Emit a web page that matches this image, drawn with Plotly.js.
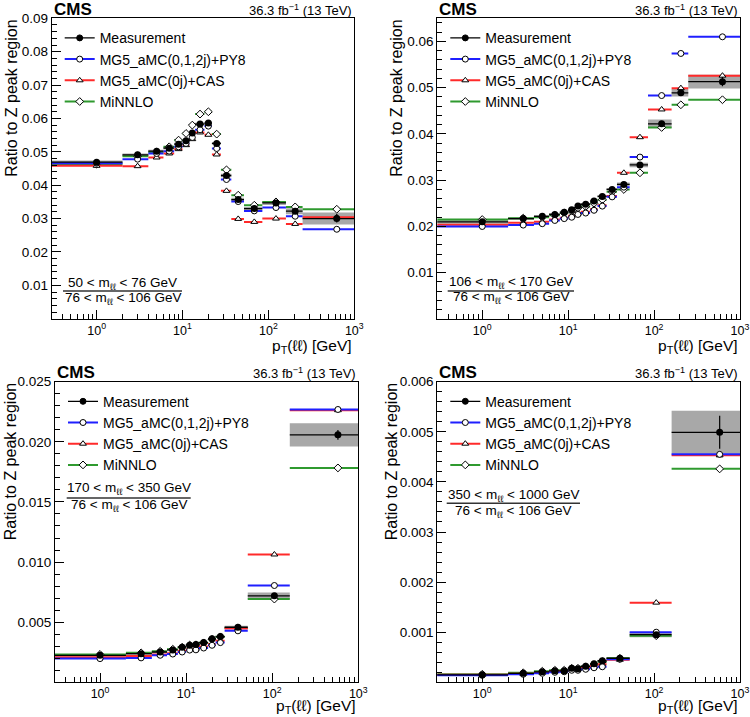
<!DOCTYPE html>
<html><head><meta charset="utf-8">
<script src="https://cdn.plot.ly/plotly-3.0.1.min.js"></script>
<style>html,body{margin:0;padding:0;background:#fff}#chart{width:750px;height:717px}</style>
</head><body><div id="chart"></div>
<script>
// ---------------- data ----------------
// pT(ll) bin edges [GeV]
const edgesA = [0,2,4,6,8,10,12,14,18,22,28,37,52,85,160,250,1000];
const edgesB = [0,2,4,6,8,10,12,14,18,22,28,37,52,85,160,250,1000];
const edgesC = [0,2,4,6,8,10,12,14,18,22,28,52,160,1000];
const edgesD = [0,2,4,6,8,10,12,14,18,22,28,52,160,1000];

// 50 < mll < 76 GeV
const measA = [0.0469,0.0491,0.0502,0.0511,0.0523,0.0533,0.0556,0.0583,0.0586,0.0525,0.0429,0.0357,0.0330,0.0347,0.0322,0.0300];
const statA = [0.0001,0.0001,0.0001,0.0001,0.0001,0.0001,0.0001,0.0001,0.0001,0.0002,0.0002,0.0002,0.0003,0.0004,0.0007,0.0012];
const bandA = [0.0005,0.0004,0.0004,0.0004,0.0004,0.0004,0.0004,0.0004,0.0004,0.0004,0.0005,0.0005,0.0005,0.0006,0.0009,0.0018];
const py8A  = [0.0466,0.0478,0.0495,0.0502,0.0515,0.0525,0.0543,0.0566,0.0577,0.0510,0.0417,0.0351,0.0323,0.0333,0.0307,0.0268];
const casA  = [0.0458,0.0457,0.0483,0.0495,0.0508,0.0520,0.0538,0.0558,0.0551,0.0492,0.0383,0.0299,0.0290,0.0300,0.0284,0.0304];
const mnlA  = [0.0463,0.0487,0.0499,0.0515,0.0535,0.0555,0.0580,0.0613,0.0620,0.0553,0.0446,0.0370,0.0340,0.0350,0.0335,0.0328];

// 106 < mll < 170 GeV
const measB = [0.0210,0.0217,0.0222,0.0226,0.0231,0.0236,0.0244,0.0248,0.0255,0.0265,0.0280,0.0291,0.0333,0.0422,0.0489,0.0513];
const statB = [0.0001,0.0001,0.0001,0.0001,0.0001,0.0001,0.0001,0.0001,0.0001,0.0001,0.0002,0.0002,0.0003,0.0005,0.0006,0.0010];
const bandB = [0.0004,0.0003,0.0003,0.0003,0.0003,0.0003,0.0003,0.0003,0.0003,0.0003,0.0003,0.0004,0.0005,0.0009,0.0008,0.0015];
const py8B  = [0.0200,0.0203,0.0206,0.0213,0.0217,0.0220,0.0226,0.0229,0.0235,0.0244,0.0264,0.0285,0.0350,0.0483,0.0574,0.0610];
const casB  = [0.0204,0.0208,0.0210,0.0215,0.0219,0.0223,0.0228,0.0232,0.0238,0.0246,0.0266,0.0316,0.0393,0.0453,0.0499,0.0526];
const mnlB  = [0.0215,0.0218,0.0220,0.0224,0.0229,0.0233,0.0240,0.0243,0.0250,0.0258,0.0275,0.0280,0.0316,0.0414,0.0463,0.0474];

// 170 < mll < 350 GeV
const measC = [0.00224,0.00238,0.00252,0.00269,0.00292,0.00309,0.00314,0.00330,0.00362,0.00380,0.00458,0.00719,0.02058];
const statC = [0.00003,0.00003,0.00003,0.00003,0.00003,0.00003,0.00003,0.00003,0.00004,0.00004,0.00006,0.00010,0.00040];
const bandC = [0.00010,0.00010,0.00010,0.00010,0.00010,0.00010,0.00010,0.00010,0.00010,0.00010,0.00012,0.00028,0.00097];
const py8C  = [0.00197,0.00203,0.00225,0.00235,0.00252,0.00268,0.00270,0.00285,0.00308,0.00330,0.00428,0.00805,0.02269];
const casC  = [0.00208,0.00218,0.00232,0.00242,0.00262,0.00275,0.00280,0.00298,0.00318,0.00345,0.00448,0.01063,0.02263];
const mnlC  = [0.00232,0.00245,0.00258,0.00275,0.00292,0.00310,0.00312,0.00328,0.00358,0.00378,0.00452,0.00692,0.01783];

// 350 < mll < 1000 GeV
const measD = [0.00015,0.00018,0.00021,0.00023,0.00023,0.00028,0.00027,0.00032,0.00037,0.00043,0.00048,0.00095,0.00499];
const statD = [0.000005,0.000005,0.000006,0.000006,0.000007,0.000008,0.000008,0.000009,0.00001,0.000012,0.000015,0.00004,0.00033];
const bandD = [0.000012,0.000012,0.000012,0.000012,0.000012,0.000014,0.000014,0.000015,0.000016,0.000018,0.00002,0.00005,0.00043];
const py8D  = [0.00014,0.00016,0.00018,0.00020,0.00021,0.00024,0.00024,0.00026,0.00029,0.00031,0.00046,0.00100,0.00455];
const casD  = [0.00015,0.00017,0.00019,0.00022,0.00022,0.00025,0.00026,0.00028,0.00032,0.00036,0.00045,0.00159,0.00453];
const mnlD  = [0.00016,0.00019,0.00022,0.00024,0.00024,0.00028,0.00028,0.00031,0.00035,0.00041,0.00048,0.00093,0.00426];

const legendNames = ['Measurement','MG5_aMC(0,1,2j)+PY8','MG5_aMC(0j)+CAS','MiNNLO'];
const numLabels = ['50 < m<sub>ℓℓ</sub> < 76 GeV','106 < m<sub>ℓℓ</sub> < 170 GeV','170 < m<sub>ℓℓ</sub> < 350 GeV','350 < m<sub>ℓℓ</sub> < 1000 GeV'];
const denLabel = '76 < m<sub>ℓℓ</sub> < 106 GeV';
const yTickVals = [
  [0.01,0.02,0.03,0.04,0.05,0.06,0.07,0.08,0.09],
  [0.01,0.02,0.03,0.04,0.05,0.06],
  [0.005,0.010,0.015,0.020,0.025],
  [0.001,0.002,0.003,0.004,0.005,0.006]
];
const xTickVals = [1,10,100,1000];
const xTickText = ['10<sup>0</sup>','10<sup>1</sup>','10<sup>2</sup>','10<sup>3</sup>'];

// ---------------- styling ----------------
const FONT = 'Liberation Sans, Arial, Helvetica, sans-serif';
const COL = {meas:'#000000', py8:'#1f1fff', cas:'#ff2a2a', mnl:'#2f9a2f', band:'#a8a8a8'};
const W = 750, H = 717;
// plot-area pixel boxes [x0,x1,y0(top),y1(bottom)]
const boxes = [
  [51.7,354.3,18.3,318.7],
  [437.3,740,18.3,319],
  [55,358.3,381.7,682.3],
  [437.3,740,381.7,682.3]
];
const yRanges = [[0,0.09],[0,0.065],[0,0.025],[0,0.006]];
const yMinor = [0.002,0.002,0.001,0.0002];
const yFmt = ['.2f','.2f','.3f','.3f'];
const XMIN = 0.3;

const panels = [
  {edges:edgesA, meas:measA, stat:statA, band:bandA, py8:py8A, cas:casA, mnl:mnlA},
  {edges:edgesB, meas:measB, stat:statB, band:bandB, py8:py8B, cas:casB, mnl:mnlB},
  {edges:edgesC, meas:measC, stat:statC, band:bandC, py8:py8C, cas:casC, mnl:mnlC},
  {edges:edgesD, meas:measD, stat:statD, band:bandD, py8:py8D, cas:casD, mnl:mnlD}
];

const px = x => x / W;
const py = y => 1 - y / H;

const minorX = [];
[0.1,1,10,100].forEach(d => { for (let m = 2; m <= 9; m++) { const v = m*d; if (v > XMIN) minorX.push(v); } });

const traces = [];
const layout = {
  width: W, height: H, margin:{l:0,r:0,t:0,b:0},
  paper_bgcolor:'#fff', plot_bgcolor:'#fff',
  font:{family:FONT, color:'#000'},
  showlegend:true, annotations:[], shapes:[]
};

panels.forEach((p, i) => {
  const k = i + 1;
  const xa = k === 1 ? 'x' : 'x' + k;
  const ya = k === 1 ? 'y' : 'y' + k;
  const lg = k === 1 ? 'legend' : 'legend' + k;
  const n = p.meas.length;
  const lo = [], hi = [], c = [];
  for (let j = 0; j < n; j++) {
    const l = Math.max(p.edges[j], XMIN * 0.9);
    const h = p.edges[j+1];
    lo.push(l); hi.push(h); c.push((p.edges[j] + p.edges[j+1]) / 2);
  }
  const ep = hi.map((h,j) => h - c[j]);
  const em = lo.map((l,j) => c[j] - l);

  // grey uncertainty band
  const bx = [], by = [];
  for (let j = 0; j < n; j++) {
    const a = p.meas[j] - p.band[j], b = p.meas[j] + p.band[j];
    bx.push(lo[j], hi[j], hi[j], lo[j], lo[j], null);
    by.push(a, a, b, b, a, null);
  }
  traces.push({type:'scatter', mode:'lines', x:bx, y:by, xaxis:xa, yaxis:ya, fill:'toself',
    fillcolor:COL.band, line:{width:0, color:COL.band}, hoverinfo:'skip', showlegend:false});

  const model = (vals, col, sym) => ({
    type:'scatter', mode:'markers', x:c, y:vals, xaxis:xa, yaxis:ya, showlegend:false,
    marker:{symbol:sym, size:6, color:'#fff', line:{color:'#000', width:1}},
    error_x:{type:'data', symmetric:false, array:ep, arrayminus:em, color:col, thickness:2, width:0}
  });
  traces.push(model(p.mnl, COL.mnl, 'diamond'));
  traces.push(model(p.cas, COL.cas, 'triangle-up'));
  traces.push(model(p.py8, COL.py8, 'circle'));
  traces.push({type:'scatter', mode:'markers', x:c, y:p.meas, xaxis:xa, yaxis:ya, showlegend:false,
    marker:{symbol:'circle', size:7, color:'#000'},
    error_x:{type:'data', symmetric:false, array:ep, arrayminus:em, color:'#000', thickness:1.3, width:0},
    error_y:{type:'data', array:p.stat, color:'#000', thickness:1.2, width:0}});

  // legend entries
  const leg = [
    {name:legendNames[0], col:'#000', sym:'circle', mc:'#000', lw:1.3},
    {name:legendNames[1], col:COL.py8, sym:'circle', mc:'#fff', lw:2},
    {name:legendNames[2], col:COL.cas, sym:'triangle-up', mc:'#fff', lw:2},
    {name:legendNames[3], col:COL.mnl, sym:'diamond', mc:'#fff', lw:2}
  ];
  leg.forEach(e => traces.push({type:'scatter', mode:'lines+markers', x:[null], y:[null], xaxis:xa, yaxis:ya,
    name:e.name, legend:lg, line:{color:e.col, width:e.lw},
    marker:{symbol:e.sym, size:6, color:e.mc, line:{color:'#000', width:1}}}));

  const [x0,x1,y0,y1] = boxes[i];
  layout[lg] = {x:px(x0 + 8), y:py(y0 + 4), xanchor:'left', yanchor:'top', bgcolor:'rgba(0,0,0,0)',
    borderwidth:0, font:{family:FONT, size:14, color:'#000'}, itemwidth:30, tracegroupgap:0};

  const axKey = k === 1 ? '' : String(k);
  layout['xaxis' + axKey] = {
    domain:[px(x0), px(x1)], anchor:ya, type:'log', range:[Math.log10(XMIN), 3],
    tickmode:'array', tickvals:xTickVals, ticktext:xTickText, ticks:'inside', ticklen:9, tickcolor:'#000',
    minor:{tickmode:'array', tickvals:minorX, ticks:'inside', ticklen:5, tickcolor:'#000', showgrid:false},
    showgrid:false, zeroline:false, showline:true, mirror:true, linecolor:'#000', linewidth:1,
    tickfont:{family:FONT, size:12.5, color:'#000'}
  };
  layout['yaxis' + axKey] = {
    domain:[py(y1), py(y0)], anchor:xa, range:yRanges[i],
    tickmode:'array', tickvals:yTickVals[i], tickformat:yFmt[i],
    ticks:'inside', ticklen:9, tickcolor:'#000',
    minor:{tickmode:'linear', tick0:0, dtick:yMinor[i], ticks:'inside', ticklen:5, tickcolor:'#000', showgrid:false},
    showgrid:false, zeroline:false, showline:true, mirror:true, linecolor:'#000', linewidth:1,
    tickfont:{family:FONT, size:13.5, color:'#000'}
  };

  // annotations
  const A = layout.annotations;
  A.push({xref:'paper', yref:'paper', x:px(x0), y:py(y0 - 9), xanchor:'left', yanchor:'middle',
    text:'<b>CMS</b>', showarrow:false, font:{family:FONT, size:17, color:'#000'}});
  A.push({xref:'paper', yref:'paper', x:px(x1), y:py(y0 - 8.5), xanchor:'right', yanchor:'middle',
    text:'36.3 fb<sup>−1</sup> (13 TeV)', showarrow:false, font:{family:FONT, size:13, color:'#000'}});
  const ytx = [12, 397, 10, 391][i];
  A.push({xref:'paper', yref:'paper', x:px(ytx), y:py(y0), xanchor:'center', yanchor:'top', textangle:-90,
    text:'Ratio to Z peak region', showarrow:false, font:{family:FONT, size:16, color:'#000'}});
  const xtb = [357, 357, 717, 717][i];
  A.push({xref:'paper', yref:'paper', x:px(x1 - 1), y:py(xtb), xanchor:'right', yanchor:'bottom',
    text:'p<sub>T</sub>(ℓℓ) [GeV]', showarrow:false, borderpad:0, font:{family:FONT, size:15.5, color:'#000'}});
  const fr = [[63,182,291,283.7,298.3],[447.7,574,291,282,297],[66.7,190.7,498,488,505.7],[446.7,580,503.3,495,511.7]][i];
  const cx = (fr[0] + fr[1]) / 2;
  A.push({xref:'paper', yref:'paper', x:px(cx), y:py(fr[3]), xanchor:'center', yanchor:'middle',
    text:numLabels[i], showarrow:false, font:{family:FONT, size:13.5, color:'#000'}});
  A.push({xref:'paper', yref:'paper', x:px(cx), y:py(fr[4]), xanchor:'center', yanchor:'middle',
    text:denLabel, showarrow:false, font:{family:FONT, size:13.5, color:'#000'}});
  layout.shapes.push({type:'line', xref:'paper', yref:'paper', x0:px(fr[0]), x1:px(fr[1]), y0:py(fr[2]), y1:py(fr[2]),
    line:{color:'#333', width:1.5}});
});

Plotly.newPlot('chart', traces, layout, {staticPlot:true, displayModeBar:false});
</script>
</body></html>
